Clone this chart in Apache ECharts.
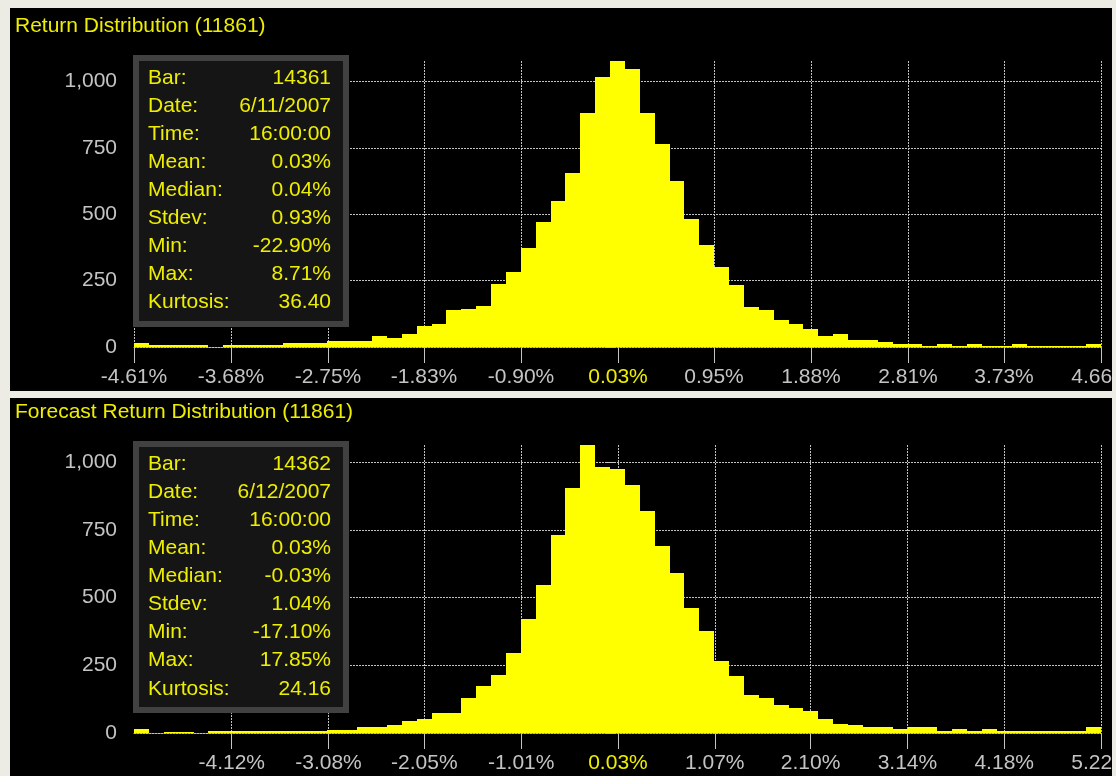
<!DOCTYPE html>
<html>
<head>
<meta charset="utf-8">
<script src="https://cdn.jsdelivr.net/npm/echarts@6/dist/echarts.min.js"></script>
<style>
  html, body { margin: 0; padding: 0; background: #000; }
  #chart { width: 1116px; height: 776px; }
</style>
</head>
<body>
<div id="chart"></div>
<script>
// Histogram counts, 65 equal bins each
const returnCounts = [
  15, 6, 6, 6, 6, 0, 6, 6, 6, 6, 14, 14, 14, 22, 22, 22, 42, 35, 50, 81,
  88, 141, 143, 156, 239, 284, 375, 473, 549, 654, 883, 1019, 1078, 1048, 883, 767, 625, 481, 383, 300,
  232, 150, 141, 103, 88, 66, 43, 50, 28, 28, 20, 13, 13, 5, 13, 5, 13, 5, 5, 13,
  5, 5, 5, 5, 13
];
const forecastCounts = [
  15, 0, 5, 5, 0, 6, 6, 6, 6, 6, 6, 6, 6, 10, 10, 21, 21, 28, 43, 50,
  72, 72, 131, 175, 213, 294, 421, 546, 731, 906, 1063, 980, 973, 914, 819, 692, 589, 463, 375, 264,
  211, 139, 131, 102, 94, 80, 50, 35, 28, 21, 21, 13, 21, 21, 6, 13, 6, 13, 6, 6,
  6, 6, 6, 6, 21
];

// Axis ranges (percent) and tick positions
const returnRange = [-4.61, 4.66];
const forecastRange = [-5.17, 5.22];
const returnTicks = [-4.61, -3.68, -2.75, -1.83, -0.90, 0.03, 0.95, 1.88, 2.81, 3.73, 4.66];
const forecastTicks = [-4.12, -3.08, -2.05, -1.01, 0.03, 1.07, 2.10, 3.14, 4.18, 5.22];
const countTicks = [0, 250, 500, 750, 1000];
const meanReturn = 0.03;

// Panel titles and statistics boxes
const panelTitles = ['Return Distribution (11861)', 'Forecast Return Distribution (11861)'];
const statNames = ['Bar:', 'Date:', 'Time:', 'Mean:', 'Median:', 'Stdev:', 'Min:', 'Max:', 'Kurtosis:'];
const returnStats = ['14361', '6/11/2007', '16:00:00', '0.03%', '0.04%', '0.93%', '-22.90%', '8.71%', '36.40'];
const forecastStats = ['14362', '6/12/2007', '16:00:00', '0.03%', '-0.03%', '1.04%', '-17.10%', '17.85%', '24.16'];

const FONT = '"Liberation Sans", Arial, sans-serif';
const YELLOW = '#ffff00';
const TEXT_YELLOW = '#eeee00';
const AXIS_GREY = '#c4c4c4';
const GRID_GREY = '#c2c2c2';

const chart = echarts.init(document.getElementById('chart'), null, { renderer: 'canvas' });

function xAxisFor(range, ticks, gridIndex) {
  return {
    type: 'value', gridIndex: gridIndex,
    min: range[0], max: range[1],
    axisLine: { show: true, onZero: false, lineStyle: { color: GRID_GREY, type: [2, 1], width: 1 } },
    axisTick: { show: true, length: 16, customValues: ticks, lineStyle: { color: AXIS_GREY, width: 1 } },
    axisLabel: {
      customValues: ticks, margin: 20, fontFamily: FONT, fontSize: 21, color: AXIS_GREY,
      hideOverlap: false,
      formatter: v => Math.abs(v - meanReturn) < 1e-9 ? '{mean|' + v.toFixed(2) + '%}' : v.toFixed(2) + '%',
      rich: { mean: { color: TEXT_YELLOW, fontFamily: FONT, fontSize: 21 } }
    },
    splitLine: { show: true, lineStyle: { color: GRID_GREY, type: [2, 1], width: 1 } }
  };
}

function yAxisFor(counts, gridIndex) {
  return {
    type: 'value', gridIndex: gridIndex,
    min: 0, max: Math.max.apply(null, counts),
    axisLine: { show: true, lineStyle: { color: 'rgba(0,0,0,0)' } },
    axisTick: { show: true, length: 9, customValues: countTicks, lineStyle: { color: AXIS_GREY, width: 1 } },
    axisLabel: {
      customValues: countTicks, margin: 17, fontFamily: FONT, fontSize: 21, color: AXIS_GREY,
      formatter: v => v.toLocaleString('en-US')
    },
    splitLine: { show: true, lineStyle: { color: GRID_GREY, type: [2, 1], width: 1 } }
  };
}

// One rectangle per bin, placed through the axis scales and snapped to whole pixels
function histogram(counts, range, index) {
  const w = (range[1] - range[0]) / counts.length;
  return {
    type: 'custom', xAxisIndex: index, yAxisIndex: index,
    data: counts.map((c, i) => [range[0] + i * w, range[0] + (i + 1) * w, c]),
    encode: { x: [0, 1], y: 2 },
    renderItem: (params, api) => {
      const top = api.coord([api.value(0), api.value(2)]);
      const base = api.coord([api.value(1), 0]);
      const x0 = Math.round(top[0]), x1 = Math.round(base[0]);
      const y0 = Math.round(top[1]), y1 = Math.round(base[1]);
      return {
        type: 'rect',
        shape: { x: x0, y: y0, width: x1 - x0, height: y1 - y0 },
        style: { fill: YELLOW }
      };
    },
    z: 3
  };
}

function statsBox(x, y, values, rowGap) {
  const children = [
    { type: 'rect', z: 50, shape: { x: x, y: y, width: 216, height: 272 }, style: { fill: '#414141' } },
    { type: 'rect', z: 51, shape: { x: x + 6, y: y + 6, width: 204, height: 260 }, style: { fill: '#151515' } }
  ];
  statNames.forEach((name, i) => {
    const cy = y + 23 + i * rowGap;
    children.push({ type: 'text', z: 52, style: { x: x + 15, y: cy, text: name, fill: TEXT_YELLOW, font: '21px ' + FONT, textAlign: 'left', textVerticalAlign: 'middle' } });
    children.push({ type: 'text', z: 52, style: { x: x + 198, y: cy, text: values[i], fill: TEXT_YELLOW, font: '21px ' + FONT, textAlign: 'right', textVerticalAlign: 'middle' } });
  });
  return { type: 'group', z: 50, children: children };
}

const frame = '#ecece4';

chart.setOption({
  backgroundColor: '#000000',
  animation: false,
  grid: [
    { left: 134, right: 15, top: 61, height: 286, containLabel: false, outerBoundsMode: 'none' },
    { left: 134, right: 15, top: 445, height: 288, containLabel: false, outerBoundsMode: 'none' }
  ],
  xAxis: [xAxisFor(returnRange, returnTicks, 0), xAxisFor(forecastRange, forecastTicks, 1)],
  yAxis: [yAxisFor(returnCounts, 0), yAxisFor(forecastCounts, 1)],
  series: [histogram(returnCounts, returnRange, 0), histogram(forecastCounts, forecastRange, 1)],
  graphic: [
    statsBox(133, 55, returnStats, 28),
    statsBox(133, 441, forecastStats, 28.1),
    { type: 'text', z: 60, style: { x: 15, y: 26, text: panelTitles[0], fill: TEXT_YELLOW, font: '21px ' + FONT, textVerticalAlign: 'middle' } },
    { type: 'text', z: 60, style: { x: 15, y: 412, text: panelTitles[1], fill: TEXT_YELLOW, font: '21px ' + FONT, textVerticalAlign: 'middle' } },
    // light window frame around and between the two panels
    { type: 'rect', z: 100, shape: { x: 0, y: 0, width: 10, height: 776 }, style: { fill: frame } },
    { type: 'rect', z: 100, shape: { x: 0, y: 0, width: 1116, height: 8 }, style: { fill: frame } },
    { type: 'rect', z: 100, shape: { x: 1112, y: 0, width: 4, height: 776 }, style: { fill: frame } },
    { type: 'rect', z: 100, shape: { x: 0, y: 391, width: 1116, height: 7 }, style: { fill: frame } }
  ]
});
</script>
</body>
</html>
